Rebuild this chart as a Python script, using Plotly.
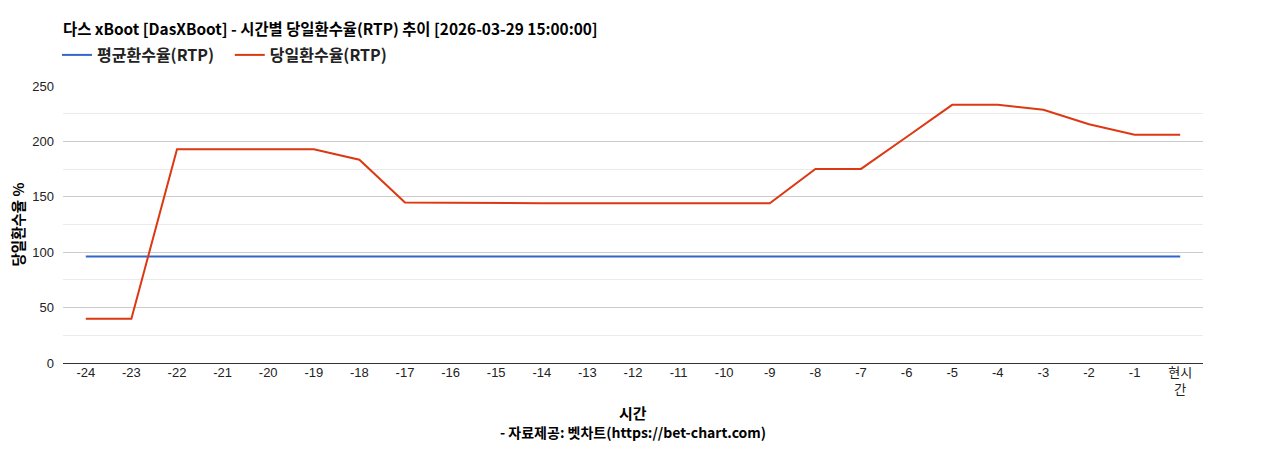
import plotly.graph_objects as go

# --- 데이터 ---
시간_라벨 = ['-24', '-23', '-22', '-21', '-20', '-19', '-18', '-17', '-16', '-15', '-14', '-13',
          '-12', '-11', '-10', '-9', '-8', '-7', '-6', '-5', '-4', '-3', '-2', '-1', '현시<br>간']
평균환수율 = [96.2] * 25
당일환수율 = [40, 40, 193, 193, 193, 193, 183.5, 144.8, 144.6, 144.2, 144.2, 144.2,
         144.2, 144.2, 144.2, 144.2, 175.2, 175.2, 204, 233, 233, 228.5, 215.5, 206, 206]

x_pos = list(range(len(시간_라벨)))

글꼴 = 'Liberation Sans, Arial, Noto Sans CJK KR, sans-serif'
제목글꼴 = 'Noto Sans CJK KR, sans-serif'

# 페이지 여백(8px)을 감안한 크기
W, H = 1252, 434
L, R, T, B = 55, 57, 78, 79
PW, PH = W - L - R, H - T - B

fig = go.Figure()

fig.add_trace(go.Scatter(
    x=x_pos, y=평균환수율, mode='lines', name='<b>평균환수율(RTP)</b>&nbsp;&nbsp;&nbsp;',
    line=dict(color='#3366cc', width=2)
))
fig.add_trace(go.Scatter(
    x=x_pos, y=당일환수율, mode='lines', name='<b>당일환수율(RTP)</b>',
    line=dict(color='#dc3912', width=2)
))

fig.update_layout(
    width=W, height=H,
    margin=dict(l=L, r=R, t=T, b=B),
    paper_bgcolor='white', plot_bgcolor='white',
    font=dict(family=글꼴, size=13, color='#222222'),
    title=dict(
        text='<b>다스 xBoot [DasXBoot] - 시간별 당일환수율(RTP) 추이 [2026-03-29 15:00:00]</b>',
        x=L / W, xanchor='left', y=1 - 22 / H, yanchor='middle',
        font=dict(size=15.4, color='#000000', family=제목글꼴)
    ),
    legend=dict(
        orientation='h', x=-6 / PW, xanchor='left', y=1 + 31 / PH, yanchor='middle',
        font=dict(size=16, color='#222222', family=제목글꼴), itemwidth=30,
        bgcolor='rgba(0,0,0,0)', traceorder='normal'
    ),
    showlegend=True,
    xaxis=dict(
        tickmode='array', tickvals=x_pos, ticktext=시간_라벨,
        range=[-0.5, 24.5], showgrid=False, zeroline=False, showline=False,
        ticks='', tickfont=dict(size=13, color='#222222')
    ),
    yaxis=dict(
        range=[0, 250], dtick=50, tick0=0, showgrid=True, gridcolor='#cccccc',
        zeroline=True, zerolinecolor='#333333', zerolinewidth=1,
        minor=dict(dtick=25, showgrid=True, gridcolor='#ebebeb'),
        ticks='', ticklabelstandoff=8, tickfont=dict(size=13, color='#222222')
    ),
    annotations=[
        dict(text='<b>당일환수율 %</b>', xref='paper', yref='paper',
             x=-46 / PW, y=0.5, xanchor='center', yanchor='middle',
             textangle=-90, showarrow=False,
             font=dict(size=14.5, color='#000000', family=제목글꼴)),
        dict(text='<b>시간</b>', xref='paper', yref='paper',
             x=0.5, y=-49 / PH, xanchor='center', yanchor='middle',
             showarrow=False, font=dict(size=15, color='#000000', family=제목글꼴)),
        dict(text='<b>- 자료제공: 벳차트(https://bet-chart.com)</b>', xref='paper', yref='paper',
             x=0.5, y=-69 / PH, xanchor='center', yanchor='middle',
             showarrow=False, font=dict(size=14, color='#000000', family=제목글꼴)),
    ]
)

fig.write_html('out.html')
